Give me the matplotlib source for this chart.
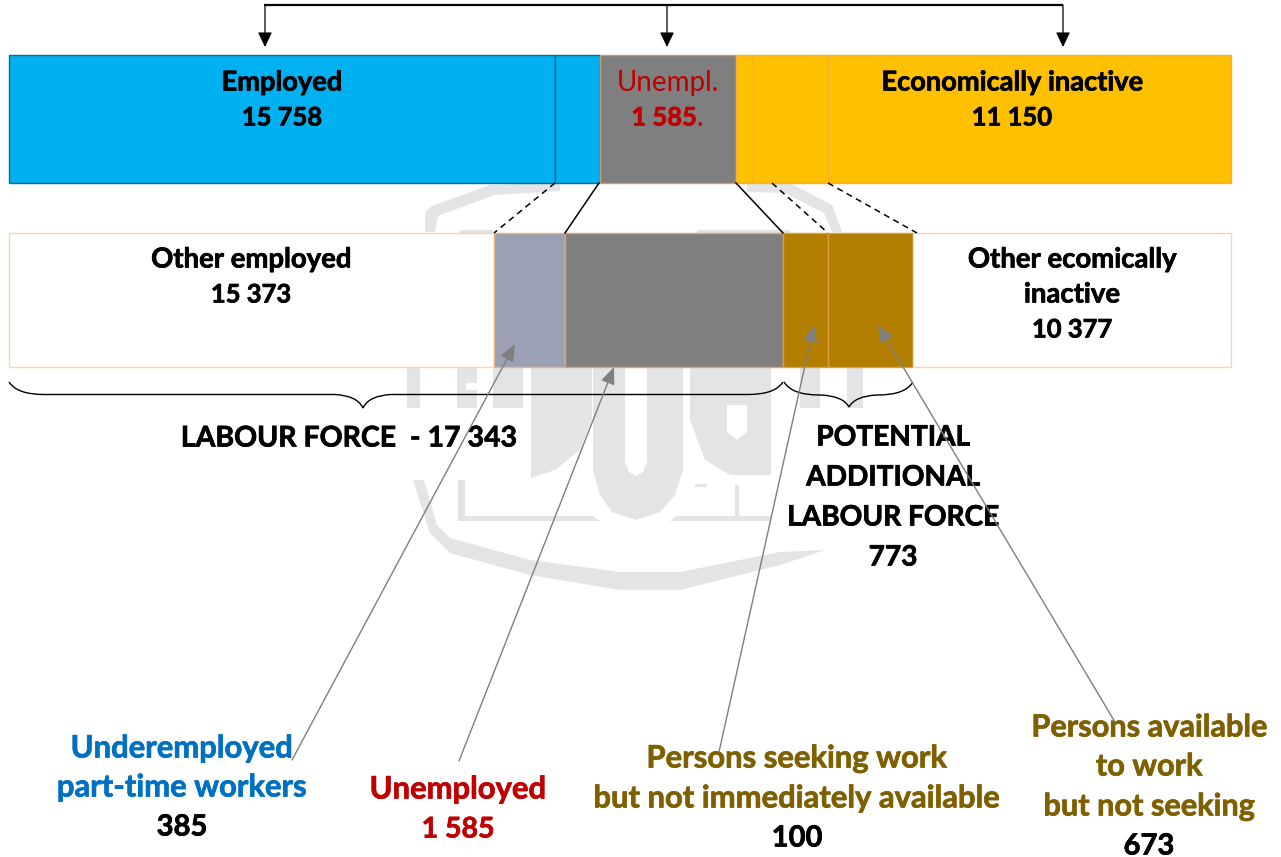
import matplotlib
matplotlib.use("Agg")
import matplotlib.pyplot as plt
import matplotlib.patheffects as pe
from matplotlib.patches import Polygon, Rectangle, PathPatch
from matplotlib.path import Path

plt.rcParams['font.family'] = ['Lato', 'DejaVu Sans']

# top bar segments, widths (the chart is not to scale)
top_widths = [546, 45, 136, 17, 75, 403]
top_colors = ['#00B0F0', '#00B0F0', '#7F7F7F', '#FFC000', '#FFC000', '#FFC000']
top_edges = ['#0B6A92', '#0B6A92', '#C8A078', '#F5B030', '#F5B030', '#F5B030']

# lower bar segments
mid_widths = [485, 71, 218, 45, 85, 318]
mid_colors = ['#FFFFFF', '#9BA1B4', '#7F7F7F', '#B27F00', '#B27F00', '#FFFFFF']
mid_edges = ['#FAD3B0', '#F0B080', '#E0A070', '#E09A40', '#E09A40', '#FAD3B0']

BLACK = '#000000'
RED = '#C00000'
BLUE = '#0070C0'
GOLD = '#7F6000'
WATERMARK = '#E3E4E6'

# text, x, y, colour, weight, size
labels = [
    ('Employed', 282, 82.5, BLACK, 'bold', 19.6),
    ('15 758', 282, 117.5, BLACK, 'bold', 18.4),
    ('Unempl.', 668, 82.5, RED, 'normal', 20),
    ('Economically inactive', 1012, 82.5, BLACK, 'bold', 19.6),
    ('11 150', 1012, 117.5, BLACK, 'bold', 18.4),
    ('Other employed', 251, 259.5, BLACK, 'bold', 19.8),
    ('15 373', 251, 294.5, BLACK, 'bold', 18.4),
    ('Other ecomically', 1072, 259.5, BLACK, 'bold', 19.8),
    ('inactive', 1072, 294.5, BLACK, 'bold', 19.8),
    ('10 377', 1072, 329.5, BLACK, 'bold', 18.4),
    ('LABOUR FORCE  - 17 343', 349, 438.5, BLACK, 'bold', 20.5),
    ('POTENTIAL', 893, 437.5, BLACK, 'bold', 20.2),
    ('ADDITIONAL', 893, 477.5, BLACK, 'bold', 20.2),
    ('LABOUR FORCE', 893, 517.5, BLACK, 'bold', 20.2),
    ('773', 893, 557.5, BLACK, 'bold', 20.2),
    ('Underemployed', 182, 748.5, BLUE, 'bold', 22.3),
    ('part-time workers', 182, 787.5, BLUE, 'bold', 22.3),
    ('385', 182, 827.5, BLACK, 'bold', 21),
    ('Unemployed', 458, 789.5, RED, 'bold', 22.3),
    ('1 585', 458, 829.5, RED, 'bold', 20.5),
    ('Persons seeking work', 797, 758.5, GOLD, 'bold', 22.3),
    ('but not immediately available', 797, 798.5, GOLD, 'bold', 22.3),
    ('100', 797, 838.5, BLACK, 'bold', 21),
    ('Persons available', 1149, 727.5, GOLD, 'bold', 22.1),
    ('to work', 1149, 766.5, GOLD, 'bold', 22.1),
    ('but not seeking', 1149, 806.5, GOLD, 'bold', 22.1),
    ('673', 1149, 846.5, BLACK, 'bold', 21),
]

fig = plt.figure(figsize=(12.81, 8.57), dpi=100)
ax = fig.add_axes([0, 0, 1, 1])
ax.set_xlim(0, 1281)
ax.set_ylim(857, 0)
ax.axis('off')

# watermark behind everything
for pts in [
    [(425, 232), (425, 212), (432, 206), (490, 185), (560, 183), (560, 191), (494, 195), (438, 216), (435, 232)],
    [(460, 230), (493, 230), (493, 233), (460, 233)],
    [(697, 230), (790, 230), (790, 233), (697, 233)],
    [(747, 183), (790, 183), (832, 205), (842, 232), (832, 232), (824, 213), (785, 193), (747, 192)],
    [(413, 480), (430, 533), (450, 553), (530, 575), (620, 590), (680, 590), (780, 565), (825, 550),
     (780, 552), (680, 572), (620, 572), (530, 560), (450, 538), (437, 525), (424, 480)],
    [(531, 368), (592, 368), (592, 420), (580, 450), (555, 470), (531, 478)],
    [(593, 368), (625, 368), (625, 462), (629, 472), (636, 476), (643, 472), (647, 462), (647, 368), (683, 368),
     (683, 470), (675, 495), (660, 512), (636, 520), (612, 512), (600, 495), (593, 470)],
    [(690, 368), (771, 368), (771, 475), (730, 475), (705, 460), (690, 420)],
    [(407, 368), (420, 368), (420, 408), (407, 408)],
    [(457, 368), (477, 368), (477, 383), (466, 383), (466, 390), (477, 390), (477, 408), (457, 408)],
    [(493, 368), (523, 368), (523, 408), (493, 408)],
    [(800, 368), (820, 368), (820, 408), (800, 408)],
    [(847, 368), (863, 368), (863, 408), (847, 408)],
    [(458, 480), (465, 480), (465, 516), (593, 516), (600, 521), (458, 521)],
    [(677, 516), (771, 516), (771, 521), (670, 521)],
    [(735, 485), (739, 485), (739, 516), (735, 516)],
    [(695, 484), (707, 484), (707, 487), (695, 487)],
]:
    ax.add_patch(Polygon(pts, closed=True, fc=WATERMARK, ec='none', zorder=1))
# slot of the last big letter
ax.add_patch(Polygon([(727, 405), (747, 405), (747, 432), (737, 440), (727, 432)], fc='white', ec='none', zorder=1.2))
# the label boxes hide the watermark
ax.add_patch(Rectangle((771, 408), 240, 142, fc='white', ec='none', zorder=1.5))
ax.add_patch(Rectangle((160, 408), 371, 72, fc='white', ec='none', zorder=1.5))

# the two stacked bars
left = 9
for w, c, e in zip(top_widths, top_colors, top_edges):
    ax.barh(119, w, height=128, left=left, color=c, edgecolor=e, linewidth=1, zorder=2)
    left += w
left = 9
for w, c, e in zip(mid_widths, mid_colors, mid_edges):
    ax.barh(300, w, height=134.5, left=left, color=c, edgecolor=e, linewidth=1, zorder=2)
    left += w

# connectors between the bars
for x0, x1, ls in [(555, 494, '--'), (599, 565, '-'), (736, 783, '-'), (772, 828, '--'), (828, 917, '--')]:
    ax.plot([x0, x1], [183, 233], color='black', lw=1.1, ls=ls, dashes=(4, 3) if ls == '--' else (None, None), zorder=3)

# top bracket with three arrows
ax.plot([264, 1063], [5, 5], color='black', lw=1.6, solid_capstyle='butt', zorder=3)
for x in [265, 667, 1063]:
    ax.annotate('', xy=(x, 47), xytext=(x, 5),
                arrowprops=dict(arrowstyle='-|>,head_length=0.75,head_width=0.36', color='black', lw=0.9,
                                shrinkA=0, shrinkB=0, mutation_scale=12), zorder=3)


def brace(x0, x1, xm, y0, ymid, ytip):
    verts = [(x0, y0), (x0 + 8, ymid), (x0 + 35, ymid),
             (xm - 28, ymid),
             (xm - 6, ymid + 1), (xm, ytip),
             (xm + 6, ymid + 1), (xm + 28, ymid),
             (x1 - 35, ymid),
             (x1 - 8, ymid), (x1, y0)]
    codes = [Path.MOVETO, Path.CURVE3, Path.CURVE3,
             Path.LINETO,
             Path.CURVE3, Path.CURVE3,
             Path.CURVE3, Path.CURVE3,
             Path.LINETO,
             Path.CURVE3, Path.CURVE3]
    ax.add_patch(PathPatch(Path(verts, codes), fc='none', ec='black', lw=1.0, zorder=3))


brace(9, 783, 363, 382, 394.5, 408)
brace(784, 913, 849, 382, 395, 407)

# a thin stroke brings the Lato bold closer to the heavier look of the original
for text, x, y, c, w, s in labels:
    t = ax.text(x, y, text, color=c, fontweight=w, fontsize=s, ha='center', va='center', zorder=4)
    if w == 'bold':
        t.set_path_effects([pe.withStroke(linewidth=0.5, foreground=c)])

# "1 585." is bold with a regular full stop
t = ax.text(697, 117.5, '1 585', color=RED, fontweight='bold', fontsize=18.4, ha='right', va='center', zorder=4)
t.set_path_effects([pe.withStroke(linewidth=0.5, foreground=RED)])
ax.text(697, 117.5, '.', color=RED, fontsize=20, ha='left', va='center', zorder=4)

# grey leader arrows, drawn over the text
for tail, tip in [((292, 760), (515, 344)), ((459, 761), (614, 367)), ((719, 752), (814, 325)), ((1115, 722), (878, 325))]:
    ax.annotate('', xy=tip, xytext=tail,
                arrowprops=dict(arrowstyle='-|>,head_length=0.8,head_width=0.33', color='#7F7F7F', lw=1.0,
                                shrinkA=0, shrinkB=0, mutation_scale=13), zorder=5)

fig.savefig('out.png', dpi=100)
